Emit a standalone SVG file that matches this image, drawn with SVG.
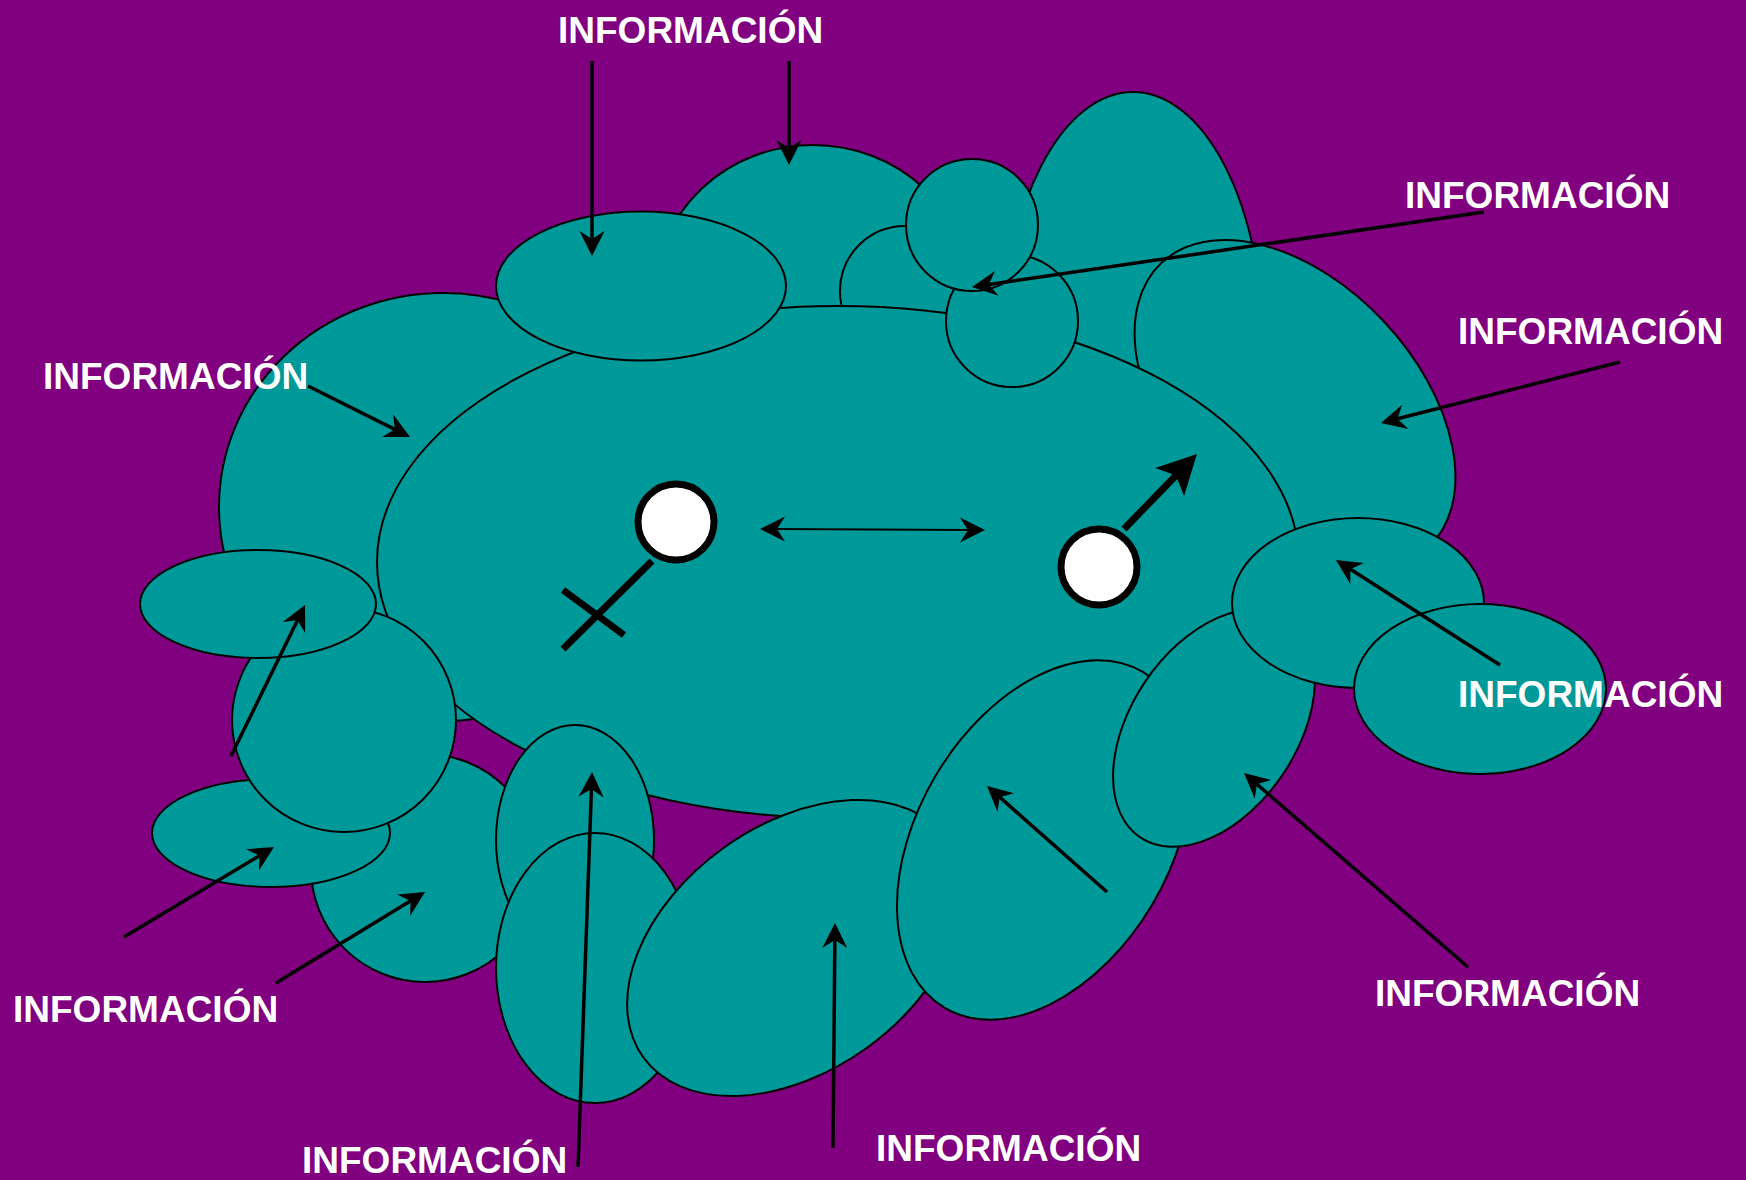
<svg xmlns="http://www.w3.org/2000/svg" width="1746" height="1180" viewBox="0 0 1746 1180">
  <style>
    .blob { fill: #009999; stroke: #000000; stroke-width: 2; }
    .arrow { stroke: #000000; stroke-width: 3.5; fill: none; marker-end: url(#head); }
    .thin { stroke: #000000; stroke-width: 2; fill: none; marker-end: url(#head); marker-start: url(#headStart); }
    .sym { stroke: #000000; stroke-width: 7; fill: none; }
    .ring { fill: #ffffff; stroke: #000000; stroke-width: 7; }
    .label { font-family: "Liberation Sans", Arial, sans-serif; font-weight: bold; font-size: 37px; fill: #ffffff; }
  </style>
  <defs>
    <marker id="head" markerUnits="userSpaceOnUse" viewBox="-16 -14 30 28" refX="0" refY="0" markerWidth="30" markerHeight="28" orient="auto">
      <path d="M12,0 L-13,-12.5 L-5,0 L-13,12.5 Z" fill="#000000"/>
    </marker>
    <marker id="headStart" markerUnits="userSpaceOnUse" viewBox="-16 -14 30 28" refX="0" refY="0" markerWidth="30" markerHeight="28" orient="auto-start-reverse">
      <path d="M12,0 L-13,-12.5 L-5,0 L-13,12.5 Z" fill="#000000"/>
    </marker>
    <marker id="bigHead" markerUnits="userSpaceOnUse" viewBox="-14 -22 46 44" refX="0" refY="0" markerWidth="46" markerHeight="44" orient="auto">
      <path d="M30,0 L-9,-20 L0,0 L-9,20 Z" fill="#000000"/>
    </marker>
  </defs>

  <rect x="0" y="0" width="1746" height="1180" fill="#800080"/>

  <g id="cloud">
    <g id="top-middle-ellipse"><ellipse class="blob" cx="813" cy="295" rx="158" ry="150"/></g>
    <g id="tall-right-ellipse"><ellipse class="blob" cx="1133" cy="345" rx="130" ry="253"/></g>
    <g id="right-tilted-ellipse"><ellipse class="blob" cx="0" cy="0" rx="195" ry="122" transform="translate(1295 405) rotate(46.8)"/></g>
    <g id="arc-circle"><circle class="blob" cx="905" cy="291" r="65"/></g>
    <g id="left-big-ellipse"><ellipse class="blob" cx="443" cy="507" rx="224" ry="214"/></g>
    <g id="main-ellipse"><ellipse class="blob" cx="838" cy="562" rx="461" ry="256"/></g>
    <g id="top-ellipse"><ellipse class="blob" cx="641" cy="286" rx="145" ry="74.5"/></g>
    <g id="circle-lower"><circle class="blob" cx="1012" cy="321" r="66"/></g>
    <g id="circle-upper"><circle class="blob" cx="972" cy="225" r="66"/></g>
    <g id="round-lower-left"><circle class="blob" cx="425" cy="868" r="114"/></g>
    <g id="lower-left-ellipse"><ellipse class="blob" cx="271" cy="833" rx="119" ry="54"/></g>
    <g id="left-middle-circle"><circle class="blob" cx="344" cy="720" r="112"/></g>
    <g id="upper-left-ellipse"><ellipse class="blob" cx="258" cy="604" rx="118" ry="54"/></g>
    <g id="upper-tall-ellipse"><ellipse class="blob" cx="575" cy="840" rx="79" ry="115"/></g>
    <g id="lower-tall-ellipse"><ellipse class="blob" cx="595" cy="968" rx="99" ry="135"/></g>
    <g id="bottom-ellipse"><ellipse class="blob" cx="0" cy="0" rx="187" ry="123" transform="translate(795 948) rotate(-35.8)"/></g>
    <g id="bottom-right-ellipse"><ellipse class="blob" cx="0" cy="0" rx="195" ry="126" transform="translate(1044 840) rotate(-59.4)"/></g>
    <g id="lower-right-ellipse"><ellipse class="blob" cx="0" cy="0" rx="132" ry="83" transform="translate(1214 728) rotate(-56)"/></g>
    <g id="mid-right-ellipse"><ellipse class="blob" cx="1358" cy="603" rx="126" ry="85"/></g>
    <g id="far-right-ellipse"><ellipse class="blob" cx="1480" cy="689" rx="126" ry="85"/></g>
  </g>

  <g id="female-symbol">
    <line class="sym" x1="652" y1="561" x2="563" y2="649"/>
    <line class="sym" x1="563" y1="590" x2="624" y2="635"/>
    <circle class="ring" cx="676" cy="522" r="38"/>
  </g>

  <g id="male-symbol">
    <line class="sym" x1="1124" y1="529" x2="1176" y2="475.5" marker-end="url(#bigHead)"/>
    <circle class="ring" cx="1099" cy="567" r="38"/>
  </g>

  <g id="labels">
    <text class="label" x="558" y="43">INFORMACIÓN</text>
    <text class="label" x="1405" y="208">INFORMACIÓN</text>
    <text class="label" x="1458" y="344">INFORMACIÓN</text>
    <text class="label" x="43" y="389">INFORMACIÓN</text>
    <text class="label" x="1458" y="707">INFORMACIÓN</text>
    <text class="label" x="13" y="1022">INFORMACIÓN</text>
    <text class="label" x="302" y="1173">INFORMACIÓN</text>
    <text class="label" x="876" y="1161">INFORMACIÓN</text>
    <text class="label" x="1375" y="1006">INFORMACIÓN</text>
  </g>

  <g id="connectors">
    <line class="arrow" x1="592" y1="61" x2="592" y2="244"/>
    <line class="arrow" x1="789" y1="61" x2="789" y2="153"/>
    <line class="arrow" x1="1484" y1="212" x2="983.9" y2="285.3"/>
    <line class="arrow" x1="1620" y1="362" x2="1392.6" y2="420"/>
    <line class="arrow" x1="308" y1="386" x2="399.3" y2="431.6"/>
    <line class="arrow" x1="1500" y1="665" x2="1346.1" y2="566.5"/>
    <line class="arrow" x1="1468" y1="967" x2="1253.1" y2="780.9"/>
    <line class="arrow" x1="1107" y1="892" x2="996" y2="793.9"/>
    <line class="arrow" x1="833" y1="1148" x2="834.9" y2="935"/>
    <line class="arrow" x1="578" y1="1167" x2="591.6" y2="784"/>
    <line class="arrow" x1="276" y1="983" x2="414.8" y2="898.3"/>
    <line class="arrow" x1="124" y1="937" x2="263.7" y2="853.2"/>
    <line class="arrow" x1="231" y1="756" x2="299.7" y2="615.8"/>
    <line class="thin" x1="772" y1="529" x2="973" y2="530"/>
  </g>
</svg>
